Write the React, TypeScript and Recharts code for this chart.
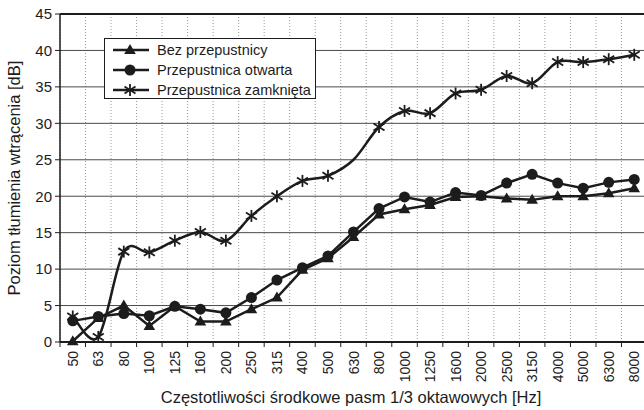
import React from 'react';
import { LineChart, Line, XAxis, YAxis, CartesianGrid, Legend, ReferenceLine } from 'recharts';

const categories = ['50','63','80','100','125','160','200','250','315','400','500','630','800','1000','1250','1600','2000','2500','3150','4000','5000','6300','8000'];
const bezPrzepustnicy = [0.1, 3.3, 5.0, 2.2, 4.9, 2.8, 2.8, 4.5, 6.1, 9.9, 11.5, 14.4, 17.5, 18.2, 18.8, 19.9, 20.0, 19.7, 19.5, 20.0, 20.0, 20.4, 21.1];
const otwarta = [2.9, 3.5, 3.9, 3.6, 4.9, 4.5, 4.0, 6.1, 8.5, 10.2, 11.8, 15.1, 18.3, 19.9, 19.2, 20.5, 20.1, 21.8, 23.0, 21.8, 21.1, 21.9, 22.3];
const zamknieta = [3.5, 0.7, 12.4, 12.3, 13.9, 15.1, 13.9, 17.3, 20.0, 22.1, 22.8, 25.0, 29.5, 31.7, 31.4, 34.1, 34.6, 36.5, 35.5, 38.4, 38.4, 38.8, 39.4];
// in the source the closed-damper curve shows no marker at 630 Hz
const zamknietaNoMarker = ['630'];
const yTicks = [0, 5, 10, 15, 20, 25, 30, 35, 40, 45];
const seriesNames = ['Bez przepustnicy', 'Przepustnica otwarta', 'Przepustnica zamknięta'];

const rows = categories.map((c, i) => ({
  pos: i + 0.5,
  cat: c,
  bez: bezPrzepustnicy[i],
  otw: otwarta[i],
  zam: zamknieta[i],
}));
const xTicks = Array.from({ length: categories.length + 1 }, (_, i) => i);

const INK = '#1c1c1c';
const FONT = '"Liberation Sans", Arial, sans-serif';

// Catmull-Rom style smoothing (like spreadsheet "smoothed line")
const smoothCurve: any = (context: any) => {
  let pts: number[][] = [];
  return {
    areaStart() {},
    areaEnd() {},
    lineStart() { pts = []; },
    point(x: number, y: number) { pts.push([+x, +y]); },
    lineEnd() {
      const n = pts.length;
      if (!n) return;
      context.moveTo(pts[0][0], pts[0][1]);
      for (let i = 0; i < n - 1; i++) {
        const p0 = pts[Math.max(i - 1, 0)];
        const p1 = pts[i];
        const p2 = pts[i + 1];
        const p3 = pts[Math.min(i + 2, n - 1)];
        const c1x = p1[0] + (p2[0] - p0[0]) / 6;
        const c1y = p1[1] + (p2[1] - p0[1]) / 6;
        const c2x = p2[0] - (p3[0] - p1[0]) / 6;
        const c2y = p2[1] - (p3[1] - p1[1]) / 6;
        context.bezierCurveTo(c1x, c1y, c2x, c2y, p2[0], p2[1]);
      }
    },
  };
};

const Triangle = ({ cx, cy }: { cx: number; cy: number }) => (
  <path d={`M${cx},${cy - 6} L${cx + 5.8},${cy + 4} L${cx - 5.8},${cy + 4} Z`} fill={INK} />
);
const Dot = ({ cx, cy }: { cx: number; cy: number }) => <circle cx={cx} cy={cy} r={5.5} fill={INK} />;
const Star = ({ cx, cy }: { cx: number; cy: number }) => (
  <g stroke={INK} strokeWidth={1.8}>
    <line x1={cx} y1={cy - 6} x2={cx} y2={cy + 6} />
    <line x1={cx - 5.5} y1={cy - 3.5} x2={cx + 5.5} y2={cy + 3.5} />
    <line x1={cx - 5.5} y1={cy + 3.5} x2={cx + 5.5} y2={cy - 3.5} />
  </g>
);

const makeDot = (Shape: any, skip: string[] = []) => (props: any) => {
  const { cx, cy, index, value, payload } = props;
  if (value == null || cx == null || cy == null || isNaN(cy) || (payload && skip.includes(payload.cat))) {
    return <g key={`d-${index}`} />;
  }
  return <g key={`d-${index}`}><Shape cx={cx} cy={cy} /></g>;
};

const XTick = (props: any) => {
  const { x, y, payload } = props;
  const i = payload.value;
  if (i >= categories.length) return <g />;
  const cx = x + 12.76;
  const ty = y + 2;
  return (
    <text x={cx} y={ty} transform={`rotate(-90, ${cx}, ${ty})`} textAnchor="end" dy="0.36em"
      fontSize={14} fontFamily={FONT} fill={INK}>
      {categories[i]}
    </text>
  );
};

const LegendBox = () => {
  const shapes = [Triangle, Dot, Star];
  return (
    <div style={{ border: `1px solid ${INK}`, background: '#fff', width: 212, height: 61, boxSizing: 'border-box', paddingTop: 1 }}>
      {seriesNames.map((n, k) => {
        const S = shapes[k];
        return (
          <div key={n} style={{ display: 'flex', alignItems: 'center', height: 20 }}>
            <svg width={50} height={20} style={{ display: 'block' }}>
              <line x1={8} y1={10} x2={44} y2={10} stroke={INK} strokeWidth={2.5} />
              <S cx={25} cy={10} />
            </svg>
            <span style={{ fontFamily: FONT, fontSize: 14.5, color: INK, marginLeft: 2, whiteSpace: 'nowrap' }}>{n}</span>
          </div>
        );
      })}
    </div>
  );
};

export default function App() {
  return (
    <div style={{ position: 'absolute', left: 0, top: 0, width: 644, height: 410, overflow: 'hidden', background: '#fff' }}>
      <LineChart width={647} height={410} data={rows} margin={{ top: 14, right: 0, bottom: 0, left: 0 }}>
        <CartesianGrid horizontal={false} vertical={true} stroke="#9a9a9a" strokeDasharray="1 2" />
        <CartesianGrid vertical={false} horizontal={true} stroke="#4a4a4a" strokeWidth={1} />
        <XAxis
          type="number"
          dataKey="pos"
          domain={[0, categories.length]}
          ticks={xTicks}
          interval={0}
          height={68}
          tickSize={5}
          axisLine={{ stroke: INK, strokeWidth: 2 }}
          tickLine={{ stroke: INK }}
          tick={<XTick />}
          label={{
            content: () => (
              <text x={351} y={397} textAnchor="middle" dy="0.36em" fontSize={16.5} fontFamily={FONT} fill={INK}>
                Częstotliwości środkowe pasm 1/3 oktawowych [Hz]
              </text>
            ),
          }}
        />
        <YAxis
          type="number"
          domain={[0, 45]}
          ticks={yTicks}
          width={60}
          tickSize={5}
          tickMargin={3}
          axisLine={{ stroke: INK, strokeWidth: 1.5 }}
          tickLine={{ stroke: INK }}
          tick={{ fontSize: 15, fontFamily: FONT, fill: INK }}
          label={{
            content: () => (
              <text x={14} y={178} transform="rotate(-90, 14, 178)" textAnchor="middle" dy="0.36em" fontSize={16.5} fontFamily={FONT} fill={INK}>
                Poziom tłumienia wtrącenia [dB]
              </text>
            ),
          }}
        />
        <ReferenceLine y={45} stroke={INK} strokeWidth={2} />
        <Line dataKey="bez" name={seriesNames[0]} type="linear" stroke={INK} strokeWidth={2.5} dot={makeDot(Triangle)} activeDot={false} isAnimationActive={false} />
        <Line dataKey="otw" name={seriesNames[1]} type="linear" stroke={INK} strokeWidth={2.5} dot={makeDot(Dot)} activeDot={false} isAnimationActive={false} />
        <Line dataKey="zam" name={seriesNames[2]} type={smoothCurve} stroke={INK} strokeWidth={2.5} dot={makeDot(Star, zamknietaNoMarker)} activeDot={false} isAnimationActive={false} />
        <Legend layout="vertical" align="center" verticalAlign="middle" wrapperStyle={{ left: 104, top: 38, width: 'auto' }} content={<LegendBox />} />
      </LineChart>
    </div>
  );
}
